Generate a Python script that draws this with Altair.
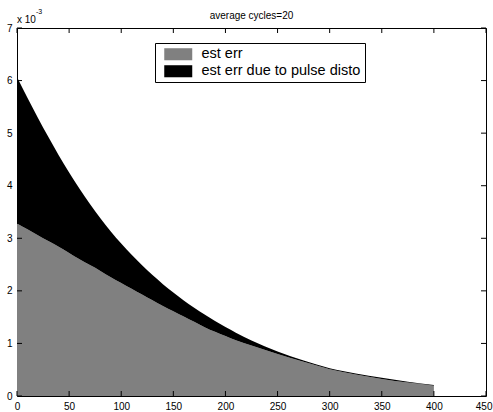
import altair as alt
import pandas as pd

# Sample positions and error curves (values in units of 1e-3)
x_vals = [0, 10, 20, 30, 40, 50, 60, 70, 80, 90, 100, 110, 120, 130, 140, 150,
          160, 170, 180, 190, 200, 210, 225, 250, 275, 300, 325, 350, 375, 400]
est_err = [3.28, 3.17, 3.06, 2.95, 2.84, 2.72, 2.60, 2.49, 2.38, 2.26, 2.15, 2.04,
           1.93, 1.82, 1.71, 1.61, 1.51, 1.41, 1.31, 1.22, 1.14, 1.06, 0.96, 0.80,
           0.65, 0.51, 0.41, 0.325, 0.255, 0.195]
est_err_total = [6.07, 5.675, 5.295, 4.93, 4.58, 4.25, 3.94, 3.65, 3.38, 3.13, 2.90,
                 2.685, 2.485, 2.30, 2.128, 1.968, 1.818, 1.678, 1.548, 1.426, 1.311,
                 1.204, 1.057, 0.845, 0.675, 0.53, 0.43, 0.345, 0.272, 0.21]

series_names = ["est err", "est err due to pulse disto"]
series_colors = ["#808080", "#000000"]

x_ticks = [0, 50, 100, 150, 200, 250, 300, 350, 400, 450]
y_ticks = [0, 1, 2, 3, 4, 5, 6, 7]

W, H = 469, 368
FONT = "Liberation Sans"

rows = []
for xv, g, t in zip(x_vals, est_err, est_err_total):
    rows.append({"x": xv, "lo": 0.0, "hi": g, "series": series_names[0]})
    rows.append({"x": xv, "lo": g, "hi": t, "series": series_names[1]})
df = pd.DataFrame(rows)

x_scale = alt.Scale(domain=[0, 450], nice=False, zero=False)
y_scale = alt.Scale(domain=[0, 7], nice=False)

areas = alt.Chart(df).mark_area(interpolate="monotone").encode(
    x=alt.X("x:Q", scale=x_scale, title=None,
            axis=alt.Axis(values=x_ticks, format="d", ticks=False, domain=False,
                          grid=False, labelFontSize=10, labelFont=FONT,
                          labelColor="black", labelPadding=5, labelFlush=False,
                          # keep the last label inside the page
                          labelAlign=alt.ExprRef("datum.value == 450 ? 'right' : 'center'"),
                          labelOffset=alt.ExprRef("datum.value == 450 ? 6 : 0"))),
    y=alt.Y("hi:Q", scale=y_scale, title=None,
            axis=alt.Axis(values=y_ticks, format="d", ticks=False, domain=False,
                          grid=False, labelFontSize=10, labelFont=FONT,
                          labelColor="black", labelPadding=5, labelFlush=False)),
    y2="lo:Q",
    color=alt.Color("series:N",
                    scale=alt.Scale(domain=series_names, range=series_colors),
                    legend=alt.Legend(
                        title=None, orient="none", legendX=138, legendY=15,
                        direction="vertical",
                        symbolType="M-2,-0.86L2,-0.86L2,0.86L-2,0.86Z",
                        symbolSize=196, symbolStrokeWidth=0, symbolOpacity=1,
                        labelFontSize=14.5, labelFont=FONT, labelColor="black",
                        labelOffset=16, symbolOffset=12, padding=4, rowPadding=2,
                        strokeColor="black", fillColor="white", cornerRadius=0)),
    order=alt.Order("series:N"),
)

xt = pd.DataFrame({"t": x_ticks})
yt = pd.DataFrame({"t": y_ticks})

# Inward-pointing ticks on all four sides of the box
xtick_bottom = alt.Chart(xt).mark_rule(color="black", strokeWidth=1).encode(
    x=alt.X("t:Q", scale=x_scale, title=None), y=alt.value(H), y2=alt.value(H - 5))
xtick_top = alt.Chart(xt).mark_rule(color="black", strokeWidth=1).encode(
    x=alt.X("t:Q", scale=x_scale, title=None), y=alt.value(0), y2=alt.value(5))
ytick_left = alt.Chart(yt).mark_rule(color="black", strokeWidth=1).encode(
    y=alt.Y("t:Q", scale=y_scale, title=None), x=alt.value(0), x2=alt.value(5))
ytick_right = alt.Chart(yt).mark_rule(color="black", strokeWidth=1).encode(
    y=alt.Y("t:Q", scale=y_scale, title=None), x=alt.value(W), x2=alt.value(W - 5))

# Exponent label above the y axis
exp_base = alt.Chart(pd.DataFrame({"s": ["x 10"]})).mark_text(
    align="left", baseline="alphabetic", fontSize=10, font=FONT, color="black"
).encode(text="s:N", x=alt.value(0), y=alt.value(-5))
exp_pow = alt.Chart(pd.DataFrame({"s": ["-3"]})).mark_text(
    align="left", baseline="alphabetic", fontSize=7, font=FONT, color="black"
).encode(text="s:N", x=alt.value(19), y=alt.value(-14))

# Plot title
title_txt = alt.Chart(pd.DataFrame({"s": ["average cycles=20"]})).mark_text(
    align="center", baseline="alphabetic", fontSize=10, font=FONT, color="black"
).encode(text="s:N", x=alt.value(W / 2), y=alt.value(-9))

chart = alt.layer(
    areas, xtick_bottom, xtick_top, ytick_left, ytick_right,
    exp_base, exp_pow, title_txt
).properties(
    width=W, height=H,
    autosize=alt.AutoSizeParams(type="none"),
    padding={"left": 17, "top": 28, "right": 7, "bottom": 16},
    background="white",
).configure_view(stroke="black", strokeWidth=1)

chart.save("out.html", embed_options={"renderer": "svg", "actions": False})
